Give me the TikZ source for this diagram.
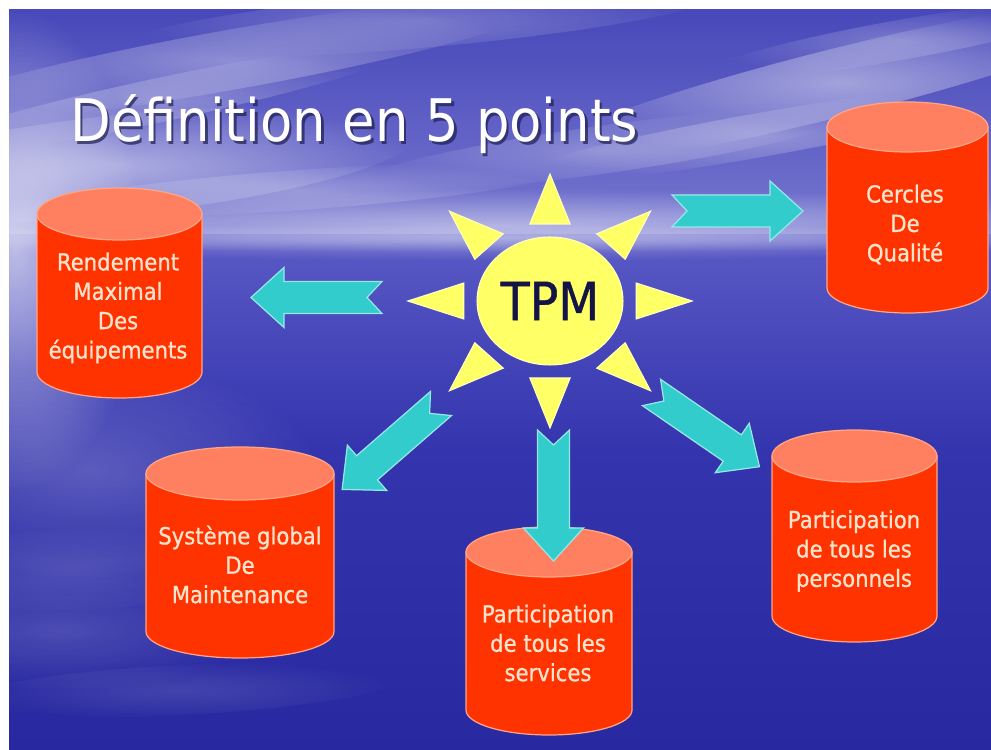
\documentclass[tikz,border=0pt]{standalone}
\usepackage{fontspec}
\setmainfont{DejaVu Sans}[FakeStretch=0.9]
\newfontfamily\labelfont{DejaVu Sans}[FakeStretch=0.9, FakeBold=0.8]
\usetikzlibrary{shapes.geometric,fadings}

\definecolor{skytop}{RGB}{72,72,186}
\definecolor{skyhaze}{RGB}{118,118,208}
\definecolor{seatop}{RGB}{90,90,198}
\definecolor{seamid}{RGB}{52,52,174}
\definecolor{seabot}{RGB}{40,40,160}
\definecolor{cylred}{RGB}{255,51,0}
\definecolor{cylcap}{RGB}{255,128,96}
\definecolor{cyledge}{RGB}{255,165,135}
\definecolor{cyltext}{RGB}{255,228,205}
\definecolor{arrowcyan}{RGB}{51,204,204}
\definecolor{arrowedge}{RGB}{150,232,232}
\definecolor{sunyellow}{RGB}{255,255,102}
\definecolor{sunedge}{RGB}{255,255,190}
\definecolor{tpmtext}{RGB}{20,20,70}
\definecolor{titleshadow}{RGB}{30,30,80}

\tikzfading[name=softblob, inner color=transparent!0, outer color=transparent!100]

% drum: centre x, top y, bottom y, x radius, y radius
\newcommand{\drum}[5]{%
  \filldraw[cylbody] (#1-#4,#2-#5) -- (#1-#4,#3+#5)
    arc[start angle=180, end angle=360, x radius=#4, y radius=#5]
    -- (#1+#4,#2-#5) -- cycle;
  \filldraw[cyltop] (#1,#2-#5) ellipse[x radius=#4, y radius=#5];
}
% soft white wisp: centre x, centre y, x radius, y radius, angle, opacity
\newcommand{\wisp}[6]{%
  \fill[cloud, opacity=#6, rotate around={#5:(#1,#2)}] (#1,#2) ellipse[x radius=#3, y radius=#4];
}

\begin{document}
\begin{tikzpicture}[x=0.02cm, y=0.02cm,
  cylbody/.style={fill=cylred, draw=cyledge, line width=0.7pt},
  cyltop/.style={fill=cylcap, draw=cyledge, line width=0.7pt},
  cyllabel/.style={align=center, text=cyltext, inner sep=0pt,
    font=\labelfont\fontsize{13.4}{16.7}\selectfont},
  arrowbody/.style={fill=arrowcyan, draw=arrowedge, line width=0.7pt, line join=miter},
  sunray/.style={fill=sunyellow, draw=sunedge, line width=0.6pt},
  cloud/.style={fill=white, path fading=softblob},
  pics/blockarrow/.style={code={
    \filldraw[arrowbody] (0,16) -- (98,16) -- (98,30) -- (131,0)
      -- (98,-30) -- (98,-16) -- (0,-16) -- (15,0) -- cycle;}}
]
\useasboundingbox (0,0) rectangle (991,750);
\fill[white] (0,0) rectangle (991,750);

% sky and sea
\shade[top color=skytop, bottom color=skyhaze] (9,515) rectangle (991,740);
\shade[top color=seatop, bottom color=seamid] (9,300) rectangle (991,515);
\shade[top color=seamid, bottom color=seabot] (9,0) rectangle (991,300.5);

\begin{scope}
  \clip (9,0) rectangle (991,740);
  % wisps of cloud
  \wisp{230}{690}{320}{30}{10}{.35}
  \wisp{160}{650}{260}{22}{12}{.30}
  \wisp{120}{585}{300}{50}{6}{.45}
  \wisp{300}{560}{260}{20}{4}{.30}
  \wisp{840}{668}{320}{34}{14}{.45}
  \wisp{760}{615}{260}{22}{10}{.30}
  \wisp{900}{710}{200}{20}{10}{.25}
  \wisp{420}{730}{300}{28}{5}{.25}
  \wisp{600}{600}{250}{24}{8}{.25}
  % haze on the horizon and light on the water
  \wisp{500}{525}{760}{36}{0}{.45}
  \wisp{500}{512}{700}{14}{0}{.30}
  \wisp{15}{500}{130}{240}{0}{.60}
  \wisp{90}{280}{230}{110}{0}{.20}
  \wisp{70}{180}{210}{40}{2}{.15}
  \wisp{60}{120}{200}{60}{0}{.15}
  \wisp{180}{60}{220}{25}{3}{.12}
\end{scope}

% title with its shadow
\node[anchor=base west, inner sep=0pt, text=titleshadow, opacity=.7,
  font=\fontsize{33.4}{40}\selectfont] (titleshade) at (72.5,605.5) {Définition en 5 points};
\node[anchor=base west, inner sep=0pt, text=white,
  font=\fontsize{33.4}{40}\selectfont] (title) at (70,608) {Définition en 5 points};

% the sun
\begin{scope}[shift={(550,449)}, xscale=1.12]
  \foreach \a in {0,45,...,315}
    \filldraw[sunray, rotate=\a] (127,0) -- (77,18) -- (77,-18) -- cycle;
\end{scope}
\node[ellipse, fill=sunyellow, draw=sunedge, line width=0.6pt,
  minimum width=2.92cm, minimum height=2.56cm, inner sep=0pt,
  text=tpmtext, font=\labelfont\fontsize{30}{36}\selectfont] (tpm) at (550,449) {TPM};

% drums
\drum{119.5}{562}{352}{82.5}{26}
\drum{907.5}{648}{437}{80.5}{25}
\drum{240}{303}{92}{94}{26.5}
\drum{549}{223}{15}{83}{25}
\drum{854.5}{320}{108}{82.5}{26}

\node[cyllabel] (rendement) at (118,442) {Rendement\\Maximal\\Des\\équipements};
\node[cyllabel] (cercles) at (905,525.5) {Cercles\\De\\Qualité};
\node[cyllabel] (systeme) at (240,185.5) {Système global\\De\\Maintenance};
\node[cyllabel] (services) at (548,107) {Participation\\de tous les\\services};
\node[cyllabel] (personnels) at (854,199) {Participation\\de tous les\\personnels};

% block arrows, placed by the middle of their notched tails
\coordinate (tailR) at (672,539);
\coordinate (tailL) at (382,452.5);
\coordinate (tailD) at (553.5,320);
\coordinate (tailDL) at (441,346.5);
\coordinate (tailDR) at (651.5,357.5);
\pic[rotate=0] at (tailR) {blockarrow};
\pic[rotate=180] at (tailL) {blockarrow};
\pic[rotate=-90] at (tailD) {blockarrow};
\pic[rotate=-139] at (tailDL) {blockarrow};
\pic[rotate=-34.5] at (tailDR) {blockarrow};
\end{tikzpicture}
\end{document}
